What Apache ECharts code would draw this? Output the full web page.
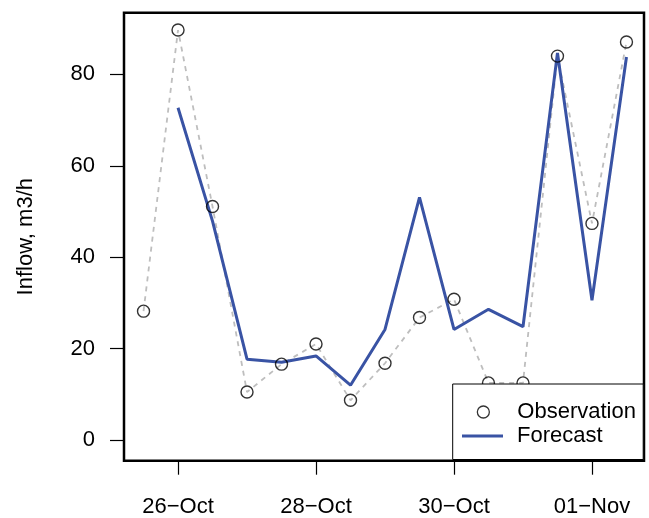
<!DOCTYPE html>
<html>
<head>
<meta charset="utf-8">
<script src="https://cdn.jsdelivr.net/npm/echarts@6/dist/echarts.min.js"></script>
<style>html,body{margin:0;padding:0;background:#fff}#c{width:649px;height:518px}</style>
</head>
<body>
<div id="c"></div>
<script>
// time in days since 1 Oct (00:00); 32 = 01-Nov
var dayOfOct = [25.5, 26, 26.5, 27, 27.5, 28, 28.5, 29, 29.5, 30, 30.5, 31, 31.5, 32, 32.5];
var observation = [28.2, 89.7, 51.1, 10.5, 16.6, 21.0, 8.7, 16.8, 26.8, 30.8, 12.5, 12.5, 84.0, 47.4, 87.1];
var forecast = [null, 72.7, 47.9, 17.7, 17.0, 18.4, 12.0, 24.2, 53.1, 24.2, 28.6, 24.8, 84.7, 30.6, 83.8];
var xTickPos = [26, 28, 30, 32];
var xTickLabels = ['26\u2212Oct', '28\u2212Oct', '30\u2212Oct', '01\u2212Nov'];
var yTicks = [0, 20, 40, 60, 80];

var FONT = 'Liberation Sans, Arial, Helvetica, sans-serif';
var obsPairs = dayOfOct.map(function (d, i) { return [d, observation[i]]; });
var fcPairs = [];
dayOfOct.forEach(function (d, i) { if (forecast[i] !== null) fcPairs.push([d, forecast[i]]); });

var chart = echarts.init(document.getElementById('c'), null, {renderer: 'canvas'});
chart.setOption({
  animation: false,
  backgroundColor: '#fff',
  grid: {left: 124, right: 5, top: 12.7, bottom: 57.3, show: true, borderColor: '#000', borderWidth: 2.5, backgroundColor: 'transparent'},
  xAxis: {
    type: 'value', min: 25.217, max: 32.754,
    axisLine: {show: false, onZero: false},
    splitLine: {show: false},
    axisTick: {show: true, inside: false, length: 14, lineStyle: {color: '#000', width: 1.2}, customValues: xTickPos},
    axisLabel: {
      show: true, margin: 35, color: '#000', fontFamily: FONT, fontSize: 22,
      customValues: xTickPos,
      formatter: function (v) { var i = xTickPos.indexOf(Math.round(v)); return i >= 0 ? xTickLabels[i] : ''; }
    }
  },
  yAxis: {
    type: 'value', min: -4.52, max: 93.5,
    name: 'Inflow, m3/h', nameLocation: 'middle', nameGap: 87, nameRotate: 90,
    nameTextStyle: {color: '#000', fontFamily: FONT, fontSize: 22},
    axisLine: {show: false, onZero: false},
    splitLine: {show: false},
    axisTick: {show: true, inside: false, length: 14, lineStyle: {color: '#000', width: 1.2}, customValues: yTicks},
    axisLabel: {show: true, margin: 29, color: '#000', fontFamily: FONT, fontSize: 22, customValues: yTicks}
  },
  legend: [
    {
      left: 471.7, top: 396, orient: 'vertical', itemWidth: 12, itemHeight: 12, z: 5,
      data: [{name: 'Observation', icon: 'circle', itemStyle: {color: 'transparent', borderColor: '#000', borderWidth: 1.3}}],
      textStyle: {color: '#000', fontFamily: FONT, fontSize: 22, padding: [0, 0, 0, 23]},
      selectedMode: false
    },
    {
      left: 457, top: 420, orient: 'vertical', itemWidth: 41, itemHeight: 3, z: 5,
      data: [{name: 'Forecast', icon: 'rect', itemStyle: {color: '#3953A4'}}],
      textStyle: {color: '#000', fontFamily: FONT, fontSize: 22, padding: [0, 0, 0, 9]},
      selectedMode: false
    }
  ],
  graphic: [{
    type: 'rect', z: 3,
    shape: {x: 452.7, y: 384, width: 190.5, height: 75.5},
    style: {fill: '#fff', stroke: '#000', lineWidth: 1}
  }],
  series: [
    {
      name: 'obsline', type: 'line', data: obsPairs, symbol: 'none', z: 1,
      lineStyle: {color: '#BEBEBE', width: 1.8, type: [5, 5]}, silent: true
    },
    {
      name: 'Forecast', type: 'line', data: fcPairs, symbol: 'none', z: 2,
      lineStyle: {color: '#3953A4', width: 3}, itemStyle: {color: '#3953A4'}
    },
    {
      name: 'Observation', type: 'scatter', data: obsPairs, symbol: 'circle', symbolSize: 12, z: 2,
      itemStyle: {color: 'transparent', borderColor: '#000', borderWidth: 1.4}
    }
  ]
});
</script>
</body>
</html>
